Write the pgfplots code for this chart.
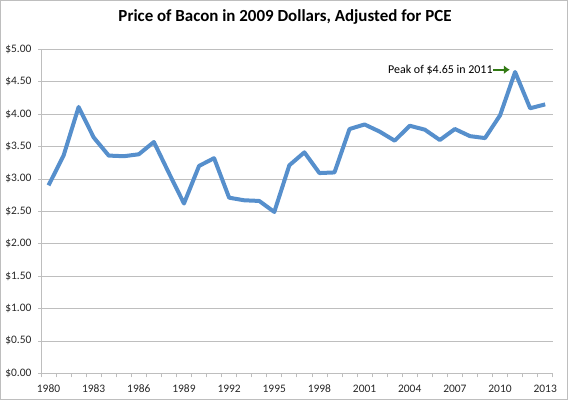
\documentclass[border=0pt]{standalone}
\usepackage{pgfplots}
\pgfplotsset{compat=1.18}
\usepackage{pgfplotstable}
\usetikzlibrary{arrows.meta}
\usepackage{fontspec}
\setmainfont{Carlito}
\definecolor{excelblue}{RGB}{86,143,204}
\definecolor{gridgray}{RGB}{190,190,190}
\definecolor{arrowgreen}{RGB}{50,122,20}
\pgfplotstableread{
year price
1980 2.90
1981 3.36
1982 4.11
1983 3.64
1984 3.36
1985 3.35
1986 3.38
1987 3.57
1988 3.09
1989 2.62
1990 3.20
1991 3.32
1992 2.71
1993 2.67
1994 2.66
1995 2.49
1996 3.21
1997 3.41
1998 3.09
1999 3.10
2000 3.77
2001 3.84
2002 3.73
2003 3.59
2004 3.82
2005 3.76
2006 3.60
2007 3.77
2008 3.66
2009 3.63
2010 3.98
2011 4.65
2012 4.09
2013 4.15
}\bacon
\begin{document}
\begin{tikzpicture}[x=1bp,y=1bp]
\path (0,0) rectangle (570,401);
\draw[gridgray,line width=1.2bp] (0.6,1.5) rectangle (567.5,400.4);
\node[font=\bfseries\fontsize{17}{20}\selectfont] at (285,384) {Price of Bacon in 2009 Dollars, Adjusted for PCE};
\begin{axis}[
  at={(41bp,27.7bp)}, anchor=origin,
  scale only axis,
  width=511.7bp, height=324bp,
  xmin=1979.5, xmax=2013.5,
  ymin=0, ymax=5,
  xtick={1980,1983,...,2013},
  minor xtick={1979.5,1980.5,...,2013.5},
  ytick={0,0.5,...,5},
  ymajorgrids,
  grid style={gridgray,line width=0.8bp},
  axis line style={gridgray,line width=0.8bp},
  axis x line*=bottom,
  axis y line*=left,
  tick align=outside,
  major x tick style={draw=none},
  minor x tick style={gridgray,line width=0.8bp},
  minor tick length=4bp,
  major y tick style={gridgray,line width=0.8bp},
  major tick length=3bp,
  /pgf/number format/assume math mode=true,
  xticklabel={\pgfmathprintnumber[1000 sep={}]{\tick}},
  yticklabel={\$\pgfmathprintnumber[fixed,fixed zerofill,precision=2]{\tick}},
  ticklabel style={font=\fontsize{11.5}{13}\selectfont, text=black!85},
  xticklabel style={yshift=-5bp},
  yticklabel style={xshift=-3bp},
  clip=false,
]
\addplot[excelblue, line width=4bp, line join=round, no markers] table[x=year,y=price]{\bacon};
\draw[arrowgreen, line width=2.2bp, -{Latex[length=6bp,width=9bp]}] (axis cs:2009.55,4.685) -- (axis cs:2010.65,4.685);
\node[anchor=east, font=\fontsize{12}{14}\selectfont, inner sep=0.5bp] at (axis cs:2009.55,4.685) {Peak of \$4.65 in 2011};
\end{axis}
\end{tikzpicture}
\end{document}
